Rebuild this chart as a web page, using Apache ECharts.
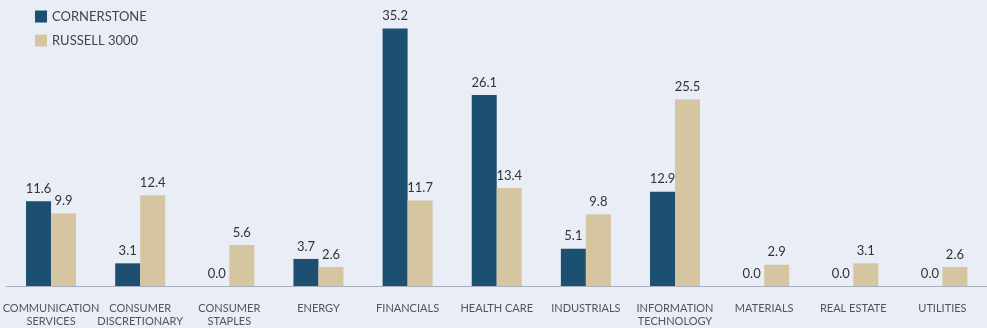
<!DOCTYPE html>
<html>
<head>
<meta charset="utf-8">
<style>
  html, body { margin: 0; padding: 0; background: #e9edf5; }
  #chart { width: 987px; height: 328px; }
</style>
<script src="https://cdn.jsdelivr.net/npm/echarts@6/dist/echarts.min.js"></script>
</head>
<body>
<div id="chart"></div>
<script>
const categories = [
  'COMMUNICATION\nSERVICES', 'CONSUMER\nDISCRETIONARY', 'CONSUMER\nSTAPLES', 'ENERGY',
  'FINANCIALS', 'HEALTH CARE', 'INDUSTRIALS', 'INFORMATION\nTECHNOLOGY',
  'MATERIALS', 'REAL ESTATE', 'UTILITIES'
];
const cornerstone = [11.6, 3.1, 0.0, 3.7, 35.2, 26.1, 5.1, 12.9, 0.0, 0.0, 0.0];
const russell3000 = [9.9, 12.4, 5.6, 2.6, 11.7, 13.4, 9.8, 25.5, 2.9, 3.1, 2.6];
const seriesNames = ['CORNERSTONE', 'RUSSELL 3000'];

const chart = echarts.init(document.getElementById('chart'));
const FONT = 'Lato, "Open Sans", sans-serif';
const labelStyle = {
  show: true, position: 'top', distance: 6,
  color: '#333', fontSize: 13, fontFamily: FONT,
  formatter: p => p.value.toFixed(1)
};
chart.setOption({
  backgroundColor: '#e9edf5',
  animation: false,
  legend: {
    orient: 'vertical', left: 30, top: 5, itemWidth: 12, itemHeight: 12, itemGap: 11,
    icon: 'rect',
    textStyle: { color: '#444', fontSize: 13, fontFamily: FONT },
    data: seriesNames
  },
  grid: { left: 4.6, width: 988.4, top: 22.7, bottom: 41.3, containLabel: false },
  xAxis: {
    type: 'category', data: categories,
    axisLine: { show: true, lineStyle: { color: '#a9b0bd', width: 1 } },
    axisTick: { show: false },
    axisLabel: { interval: 0, color: '#555', fontSize: 11, fontFamily: FONT, margin: 16, lineHeight: 13 }
  },
  yAxis: {
    type: 'value', min: 0, max: 36, show: false, splitLine: { show: false }
  },
  series: [
    { name: seriesNames[0], type: 'bar', data: cornerstone, barWidth: 25, barGap: '0%',
      itemStyle: { color: '#1d4f70' }, label: labelStyle },
    { name: seriesNames[1], type: 'bar', data: russell3000, barWidth: 25, barGap: '0%',
      itemStyle: { color: '#d5c6a1' }, label: labelStyle }
  ]
});
</script>
</body>
</html>
